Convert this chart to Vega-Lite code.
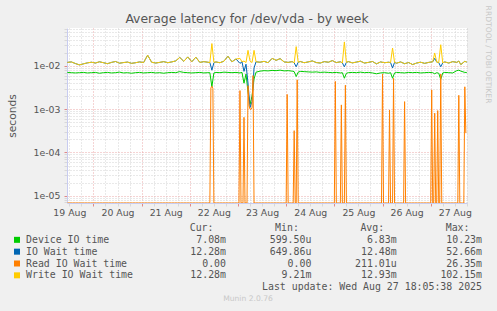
{
  "$schema": "https://vega.github.io/schema/vega-lite/v6.json",
  "width": 400,
  "height": 175,
  "autosize": {"type": "none"},
  "padding": {"left": 67, "top": 28, "right": 30, "bottom": 108},
  "background": "#f0f0f0",
  "title": {"text": "Average latency for /dev/vda - by week", "font": "DejaVu Sans", "fontSize": 12.4, "fontWeight": "normal", "color": "#555555", "offset": -20, "dx": -20},
  "config": {"view": {"fill": "#ffffff", "stroke": null}},
  "datasets": {
    "main": [
      {"t":"2025-08-19T11:00Z","dev":0.0071,"io":0.0121,"wr":0.0121},
      {"t":"2025-08-19T13:00Z","dev":0.0070,"io":0.0124,"wr":0.0124},
      {"t":"2025-08-19T15:00Z","dev":0.0069,"io":0.0114,"wr":0.0114},
      {"t":"2025-08-19T17:00Z","dev":0.0070,"io":0.0106,"wr":0.0106},
      {"t":"2025-08-19T19:00Z","dev":0.0071,"io":0.0112,"wr":0.0112},
      {"t":"2025-08-19T21:00Z","dev":0.0069,"io":0.0118,"wr":0.0118},
      {"t":"2025-08-19T23:00Z","dev":0.0070,"io":0.0122,"wr":0.0122},
      {"t":"2025-08-20T01:00Z","dev":0.0071,"io":0.0117,"wr":0.0117},
      {"t":"2025-08-20T03:00Z","dev":0.0068,"io":0.0125,"wr":0.0125},
      {"t":"2025-08-20T05:00Z","dev":0.0070,"io":0.0119,"wr":0.0119},
      {"t":"2025-08-20T07:00Z","dev":0.0071,"io":0.0113,"wr":0.0113},
      {"t":"2025-08-20T09:00Z","dev":0.0069,"io":0.0121,"wr":0.0121},
      {"t":"2025-08-20T11:00Z","dev":0.0070,"io":0.0127,"wr":0.0127},
      {"t":"2025-08-20T13:00Z","dev":0.0072,"io":0.0116,"wr":0.0116},
      {"t":"2025-08-20T15:00Z","dev":0.0069,"io":0.0120,"wr":0.0120},
      {"t":"2025-08-20T17:00Z","dev":0.0070,"io":0.0123,"wr":0.0123},
      {"t":"2025-08-20T19:00Z","dev":0.0068,"io":0.0115,"wr":0.0115},
      {"t":"2025-08-20T21:00Z","dev":0.0070,"io":0.0119,"wr":0.0119},
      {"t":"2025-08-20T23:00Z","dev":0.0071,"io":0.0124,"wr":0.0124},
      {"t":"2025-08-21T01:00Z","dev":0.0069,"io":0.0120,"wr":0.0120},
      {"t":"2025-08-21T03:00Z","dev":0.0070,"io":0.0178,"wr":0.0178},
      {"t":"2025-08-21T05:00Z","dev":0.0071,"io":0.0122,"wr":0.0122},
      {"t":"2025-08-21T07:00Z","dev":0.0069,"io":0.0117,"wr":0.0117},
      {"t":"2025-08-21T09:00Z","dev":0.0070,"io":0.0121,"wr":0.0121},
      {"t":"2025-08-21T11:00Z","dev":0.0068,"io":0.0126,"wr":0.0126},
      {"t":"2025-08-21T13:00Z","dev":0.0070,"io":0.0119,"wr":0.0119},
      {"t":"2025-08-21T15:00Z","dev":0.0071,"io":0.0124,"wr":0.0124},
      {"t":"2025-08-21T17:00Z","dev":0.0070,"io":0.0131,"wr":0.0131},
      {"t":"2025-08-21T19:00Z","dev":0.0074,"io":0.0158,"wr":0.0158},
      {"t":"2025-08-21T21:00Z","dev":0.0071,"io":0.0128,"wr":0.0128},
      {"t":"2025-08-21T23:00Z","dev":0.0070,"io":0.0162,"wr":0.0162},
      {"t":"2025-08-22T01:00Z","dev":0.0069,"io":0.0125,"wr":0.0125},
      {"t":"2025-08-22T03:00Z","dev":0.0070,"io":0.0160,"wr":0.0160},
      {"t":"2025-08-22T05:00Z","dev":0.0071,"io":0.0121,"wr":0.0121},
      {"t":"2025-08-22T07:00Z","dev":0.0069,"io":0.0126,"wr":0.0126},
      {"t":"2025-08-22T09:00Z","dev":0.0070,"io":0.0122,"wr":0.0122},
      {"t":"2025-08-22T10:00Z","dev":0.0070,"io":0.0120,"wr":0.0120},
      {"t":"2025-08-22T11:00Z","dev":0.0033,"io":0.0080,"wr":0.0330},
      {"t":"2025-08-22T12:00Z","dev":0.0069,"io":0.0118,"wr":0.0122},
      {"t":"2025-08-22T13:00Z","dev":0.0071,"io":0.0124,"wr":0.0124},
      {"t":"2025-08-22T15:00Z","dev":0.0070,"io":0.0119,"wr":0.0119},
      {"t":"2025-08-22T17:00Z","dev":0.0072,"io":0.0129,"wr":0.0129},
      {"t":"2025-08-22T19:00Z","dev":0.0071,"io":0.0168,"wr":0.0168},
      {"t":"2025-08-22T21:00Z","dev":0.0070,"io":0.0125,"wr":0.0125},
      {"t":"2025-08-22T23:00Z","dev":0.0071,"io":0.0145,"wr":0.0145},
      {"t":"2025-08-23T01:00Z","dev":0.0069,"io":0.0115,"wr":0.0150},
      {"t":"2025-08-23T02:00Z","dev":0.0071,"io":0.0125,"wr":0.0125},
      {"t":"2025-08-23T03:00Z","dev":0.0040,"io":0.0075,"wr":0.0130},
      {"t":"2025-08-23T04:00Z","dev":0.0065,"io":0.0110,"wr":0.0120},
      {"t":"2025-08-23T05:00Z","dev":0.0025,"io":0.0040,"wr":0.0230},
      {"t":"2025-08-23T06:00Z","dev":0.0013,"io":0.0011,"wr":0.0130},
      {"t":"2025-08-23T07:00Z","dev":0.0020,"io":0.0015,"wr":0.0120},
      {"t":"2025-08-23T08:00Z","dev":0.0050,"io":0.0090,"wr":0.0230},
      {"t":"2025-08-23T09:00Z","dev":0.0072,"io":0.0125,"wr":0.0125},
      {"t":"2025-08-23T11:00Z","dev":0.0076,"io":0.0122,"wr":0.0122},
      {"t":"2025-08-23T13:00Z","dev":0.0078,"io":0.0128,"wr":0.0128},
      {"t":"2025-08-23T15:00Z","dev":0.0077,"io":0.0119,"wr":0.0119},
      {"t":"2025-08-23T17:00Z","dev":0.0079,"io":0.0150,"wr":0.0150},
      {"t":"2025-08-23T19:00Z","dev":0.0078,"io":0.0135,"wr":0.0135},
      {"t":"2025-08-23T21:00Z","dev":0.0080,"io":0.0148,"wr":0.0148},
      {"t":"2025-08-23T23:00Z","dev":0.0077,"io":0.0124,"wr":0.0124},
      {"t":"2025-08-24T01:00Z","dev":0.0078,"io":0.0121,"wr":0.0121},
      {"t":"2025-08-24T03:00Z","dev":0.0076,"io":0.0126,"wr":0.0126},
      {"t":"2025-08-24T04:00Z","dev":0.0074,"io":0.0118,"wr":0.0118},
      {"t":"2025-08-24T05:00Z","dev":0.0057,"io":0.0096,"wr":0.0280},
      {"t":"2025-08-24T06:00Z","dev":0.0072,"io":0.0122,"wr":0.0122},
      {"t":"2025-08-24T07:00Z","dev":0.0075,"io":0.0127,"wr":0.0127},
      {"t":"2025-08-24T09:00Z","dev":0.0074,"io":0.0119,"wr":0.0119},
      {"t":"2025-08-24T11:00Z","dev":0.0073,"io":0.0124,"wr":0.0124},
      {"t":"2025-08-24T13:00Z","dev":0.0072,"io":0.0131,"wr":0.0131},
      {"t":"2025-08-24T15:00Z","dev":0.0073,"io":0.0120,"wr":0.0120},
      {"t":"2025-08-24T17:00Z","dev":0.0071,"io":0.0117,"wr":0.0117},
      {"t":"2025-08-24T19:00Z","dev":0.0072,"io":0.0126,"wr":0.0126},
      {"t":"2025-08-24T21:00Z","dev":0.0071,"io":0.0122,"wr":0.0122},
      {"t":"2025-08-24T23:00Z","dev":0.0070,"io":0.0133,"wr":0.0133},
      {"t":"2025-08-25T01:00Z","dev":0.0071,"io":0.0120,"wr":0.0120},
      {"t":"2025-08-25T03:00Z","dev":0.0069,"io":0.0125,"wr":0.0125},
      {"t":"2025-08-25T04:00Z","dev":0.0070,"io":0.0118,"wr":0.0118},
      {"t":"2025-08-25T05:00Z","dev":0.0052,"io":0.0096,"wr":0.0360},
      {"t":"2025-08-25T06:00Z","dev":0.0068,"io":0.0121,"wr":0.0121},
      {"t":"2025-08-25T07:00Z","dev":0.0070,"io":0.0126,"wr":0.0126},
      {"t":"2025-08-25T09:00Z","dev":0.0071,"io":0.0118,"wr":0.0118},
      {"t":"2025-08-25T11:00Z","dev":0.0070,"io":0.0123,"wr":0.0123},
      {"t":"2025-08-25T13:00Z","dev":0.0072,"io":0.0129,"wr":0.0129},
      {"t":"2025-08-25T15:00Z","dev":0.0070,"io":0.0117,"wr":0.0117},
      {"t":"2025-08-25T17:00Z","dev":0.0071,"io":0.0121,"wr":0.0121},
      {"t":"2025-08-25T19:00Z","dev":0.0069,"io":0.0127,"wr":0.0127},
      {"t":"2025-08-25T21:00Z","dev":0.0066,"io":0.0112,"wr":0.0112},
      {"t":"2025-08-25T23:00Z","dev":0.0069,"io":0.0124,"wr":0.0124},
      {"t":"2025-08-26T01:00Z","dev":0.0070,"io":0.0119,"wr":0.0119},
      {"t":"2025-08-26T03:00Z","dev":0.0068,"io":0.0122,"wr":0.0122},
      {"t":"2025-08-26T04:00Z","dev":0.0070,"io":0.0120,"wr":0.0120},
      {"t":"2025-08-26T05:00Z","dev":0.0052,"io":0.0090,"wr":0.0260},
      {"t":"2025-08-26T06:00Z","dev":0.0069,"io":0.0121,"wr":0.0121},
      {"t":"2025-08-26T07:00Z","dev":0.0071,"io":0.0116,"wr":0.0116},
      {"t":"2025-08-26T09:00Z","dev":0.0070,"io":0.0124,"wr":0.0124},
      {"t":"2025-08-26T11:00Z","dev":0.0069,"io":0.0113,"wr":0.0113},
      {"t":"2025-08-26T13:00Z","dev":0.0071,"io":0.0120,"wr":0.0120},
      {"t":"2025-08-26T15:00Z","dev":0.0070,"io":0.0108,"wr":0.0108},
      {"t":"2025-08-26T17:00Z","dev":0.0071,"io":0.0117,"wr":0.0117},
      {"t":"2025-08-26T19:00Z","dev":0.0069,"io":0.0122,"wr":0.0122},
      {"t":"2025-08-26T21:00Z","dev":0.0070,"io":0.0115,"wr":0.0115},
      {"t":"2025-08-26T23:00Z","dev":0.0071,"io":0.0121,"wr":0.0121},
      {"t":"2025-08-27T01:00Z","dev":0.0070,"io":0.0125,"wr":0.0125},
      {"t":"2025-08-27T02:00Z","dev":0.0066,"io":0.0150,"wr":0.0200},
      {"t":"2025-08-27T03:00Z","dev":0.0070,"io":0.0123,"wr":0.0123},
      {"t":"2025-08-27T04:00Z","dev":0.0068,"io":0.0120,"wr":0.0120},
      {"t":"2025-08-27T05:00Z","dev":0.0049,"io":0.0096,"wr":0.0310},
      {"t":"2025-08-27T06:00Z","dev":0.0069,"io":0.0118,"wr":0.0118},
      {"t":"2025-08-27T07:00Z","dev":0.0071,"io":0.0124,"wr":0.0124},
      {"t":"2025-08-27T09:00Z","dev":0.0070,"io":0.0117,"wr":0.0117},
      {"t":"2025-08-27T11:00Z","dev":0.0069,"io":0.0126,"wr":0.0126},
      {"t":"2025-08-27T13:00Z","dev":0.0078,"io":0.0121,"wr":0.0121},
      {"t":"2025-08-27T14:00Z","dev":0.0080,"io":0.0130,"wr":0.0130},
      {"t":"2025-08-27T15:00Z","dev":0.0076,"io":0.0108,"wr":0.0108},
      {"t":"2025-08-27T17:00Z","dev":0.0071,"io":0.0128,"wr":0.0128},
      {"t":"2025-08-27T18:00Z","dev":0.00708,"io":0.01228,"wr":0.01228}
    ],
    "read": [
      {"t":"2025-08-19T11:00Z","v":0},
      {"t":"2025-08-22T10:00Z","v":0},
      {"t":"2025-08-22T10:30Z","v":0.0031},
      {"t":"2025-08-22T11:00Z","v":0.0034},
      {"t":"2025-08-22T11:30Z","v":0.0030},
      {"t":"2025-08-22T12:00Z","v":0},
      {"t":"2025-08-23T00:30Z","v":0},
      {"t":"2025-08-23T01:00Z","v":0.0027},
      {"t":"2025-08-23T01:30Z","v":0},
      {"t":"2025-08-23T02:30Z","v":0},
      {"t":"2025-08-23T03:00Z","v":0.00065},
      {"t":"2025-08-23T03:30Z","v":0},
      {"t":"2025-08-23T04:30Z","v":0},
      {"t":"2025-08-23T05:00Z","v":0.0035},
      {"t":"2025-08-23T05:30Z","v":0.0012},
      {"t":"2025-08-23T06:00Z","v":0.0010},
      {"t":"2025-08-23T06:30Z","v":0.0010},
      {"t":"2025-08-23T07:00Z","v":0.0011},
      {"t":"2025-08-23T07:30Z","v":0.0060},
      {"t":"2025-08-23T08:00Z","v":0},
      {"t":"2025-08-24T00:00Z","v":0},
      {"t":"2025-08-24T00:30Z","v":0.0022},
      {"t":"2025-08-24T01:00Z","v":0},
      {"t":"2025-08-24T03:30Z","v":0},
      {"t":"2025-08-24T04:00Z","v":0.00032},
      {"t":"2025-08-24T04:30Z","v":0},
      {"t":"2025-08-24T05:00Z","v":0},
      {"t":"2025-08-24T05:30Z","v":0.0048},
      {"t":"2025-08-24T06:00Z","v":0},
      {"t":"2025-08-25T00:00Z","v":0},
      {"t":"2025-08-25T00:30Z","v":0.0044},
      {"t":"2025-08-25T01:00Z","v":0},
      {"t":"2025-08-25T03:00Z","v":0},
      {"t":"2025-08-25T03:30Z","v":0.00126},
      {"t":"2025-08-25T04:00Z","v":0},
      {"t":"2025-08-25T05:00Z","v":0},
      {"t":"2025-08-25T05:30Z","v":0.0036},
      {"t":"2025-08-25T06:00Z","v":0},
      {"t":"2025-08-25T23:30Z","v":0},
      {"t":"2025-08-26T00:00Z","v":0.0065},
      {"t":"2025-08-26T00:30Z","v":0},
      {"t":"2025-08-26T03:00Z","v":0},
      {"t":"2025-08-26T03:30Z","v":0.00096},
      {"t":"2025-08-26T04:00Z","v":0},
      {"t":"2025-08-26T05:00Z","v":0},
      {"t":"2025-08-26T05:30Z","v":0.0052},
      {"t":"2025-08-26T06:00Z","v":0},
      {"t":"2025-08-26T10:30Z","v":0},
      {"t":"2025-08-26T11:00Z","v":0.0015},
      {"t":"2025-08-26T11:30Z","v":0},
      {"t":"2025-08-27T00:00Z","v":0},
      {"t":"2025-08-27T00:30Z","v":0.0028},
      {"t":"2025-08-27T01:00Z","v":0},
      {"t":"2025-08-27T01:30Z","v":0},
      {"t":"2025-08-27T02:00Z","v":0.00081},
      {"t":"2025-08-27T02:30Z","v":0},
      {"t":"2025-08-27T03:00Z","v":0},
      {"t":"2025-08-27T03:30Z","v":0.00093},
      {"t":"2025-08-27T04:00Z","v":0},
      {"t":"2025-08-27T04:30Z","v":0},
      {"t":"2025-08-27T05:00Z","v":0.0065},
      {"t":"2025-08-27T05:30Z","v":0},
      {"t":"2025-08-27T13:30Z","v":0},
      {"t":"2025-08-27T14:00Z","v":0.0021},
      {"t":"2025-08-27T14:30Z","v":0},
      {"t":"2025-08-27T16:30Z","v":0},
      {"t":"2025-08-27T17:00Z","v":0.0033},
      {"t":"2025-08-27T17:30Z","v":0.00028}
    ],
    "stats": [
      {"series":"Device IO time","Cur":"7.08m","Min":"599.50u","Avg":"6.83m","Max":"10.23m"},
      {"series":"IO Wait time","Cur":"12.28m","Min":"649.86u","Avg":"12.48m","Max":"52.66m"},
      {"series":"Read IO Wait time","Cur":"0.00","Min":"0.00","Avg":"211.01u","Max":"26.35m"},
      {"series":"Write IO Wait time","Cur":"12.28m","Min":"9.21m","Avg":"12.93m","Max":"102.15m"}
    ],
    "hdr": [
      {"stat":"Cur","label":"Cur:"},
      {"stat":"Min","label":"Min:"},
      {"stat":"Avg","label":"Avg:"},
      {"stat":"Max","label":"Max:"}
    ]
  },
  "layer": [
    {
      "encoding": {
        "x": {"field": "t", "type": "temporal",
          "scale": {"type": "utc", "domain": [1755600600000, 1756317900000]},
          "axis": {"title": null, "format": "%d %b",
            "values": [1755604800000, 1755626400000, 1755648000000, 1755669600000, 1755691200000, 1755712800000, 1755734400000, 1755756000000, 1755777600000, 1755799200000, 1755820800000, 1755842400000, 1755864000000, 1755885600000, 1755907200000, 1755928800000, 1755950400000, 1755972000000, 1755993600000, 1756015200000, 1756036800000, 1756058400000, 1756080000000, 1756101600000, 1756123200000, 1756144800000, 1756166400000, 1756188000000, 1756209600000, 1756231200000, 1756252800000, 1756274400000, 1756296000000, 1756317600000],
            "labelOverlap": false, "labelFlush": false, "labelBound": false,
            "labelOpacity": {"condition": {"test": "datum.value % 86400000 == 43200000", "value": 1}, "value": 0},
            "labelFont": "DejaVu Sans", "labelFontSize": 9.33, "labelColor": "#555555", "labelPadding": 2,
            "tickSize": 3,
            "tickColor": {"condition": {"test": "datum.value % 86400000 == 0", "value": "#e08888"}, "value": "#d8d8d8"},
            "grid": true,
            "gridColor": {"condition": {"test": "datum.value % 86400000 == 0", "value": "#eaa8a8"}, "value": "#d2d2d2"},
            "gridDash": [1, 2], "domainColor": "#c8ccf0"}},
        "y": {"field": "v", "type": "quantitative",
          "scale": {"type": "log", "domain": [0.0000068, 0.0755], "clamp": true, "nice": false},
          "axis": {"title": "seconds",
            "values": [0.000007, 0.000008, 0.000009, 0.00001, 0.00002, 0.00003, 0.00004, 0.00005, 0.00006, 0.00007, 0.00008, 0.00009, 0.0001, 0.0002, 0.0003, 0.0004, 0.0005, 0.0006, 0.0007, 0.0008, 0.0009, 0.001, 0.002, 0.003, 0.004, 0.005, 0.006, 0.007, 0.008, 0.009, 0.01, 0.02, 0.03, 0.04, 0.05, 0.06, 0.07],
            "labelExpr": "datum.value == 0.01 ? '1e-02' : datum.value == 0.001 ? '1e-03' : datum.value == 0.0001 ? '1e-04' : datum.value == 0.00001 ? '1e-05' : ''",
            "labelOverlap": false, "labelBound": false, "labelFlush": false,
            "labelFont": "DejaVu Sans", "labelFontSize": 9.33, "labelColor": "#555555", "labelPadding": 4,
            "tickSize": 3,
            "tickColor": {"condition": {"test": "datum.value == 0.01 || datum.value == 0.001 || datum.value == 0.0001 || datum.value == 0.00001", "value": "#e08888"}, "value": "#d8d8d8"},
            "grid": true,
            "gridColor": {"condition": {"test": "datum.value == 0.01 || datum.value == 0.001 || datum.value == 0.0001 || datum.value == 0.00001", "value": "#eaa8a8"}, "value": "#d2d2d2"},
            "gridDash": [1, 2], "domainColor": "#c8ccf0",
            "titleFont": "DejaVu Sans", "titleFontSize": 10.67, "titleFontWeight": "normal", "titleColor": "#555555", "titlePadding": 16}}
      },
      "layer": [
        {"data": {"name": "main"},
         "transform": [{"fold": ["dev", "io", "wr"], "as": ["k", "v"]}, {"filter": "datum.k == 'dev'"}],
         "mark": {"type": "line", "strokeWidth": 1, "clip": true},
         "encoding": {"color": {"datum": "Device IO time", "type": "nominal",
           "scale": {"domain": ["Device IO time", "IO Wait time", "Read IO Wait time", "Write IO Wait time"], "range": ["#00cc00", "#0066b3", "#ff8000", "#ffcc00"]},
           "legend": null}}},
        {"data": {"name": "main"},
         "transform": [{"fold": ["dev", "io", "wr"], "as": ["k", "v"]}, {"filter": "datum.k == 'io'"}],
         "mark": {"type": "line", "strokeWidth": 1, "clip": true},
         "encoding": {"color": {"datum": "IO Wait time", "type": "nominal", "legend": null}}},
        {"data": {"name": "read"},
         "mark": {"type": "line", "strokeWidth": 1, "clip": true},
         "encoding": {"color": {"datum": "Read IO Wait time", "type": "nominal", "legend": null}}},
        {"data": {"name": "main"},
         "transform": [{"fold": ["dev", "io", "wr"], "as": ["k", "v"]}, {"filter": "datum.k == 'wr'"}],
         "mark": {"type": "line", "strokeWidth": 1, "clip": true},
         "encoding": {"color": {"datum": "Write IO Wait time", "type": "nominal", "legend": null}}}
      ]
    },
    {
      "layer": [
        {"data": {"name": "stats"},
         "transform": [{"fold": ["Cur", "Min", "Avg", "Max"], "as": ["stat", "val"]}],
         "mark": {"type": "text", "align": "right", "baseline": "middle", "font": "DejaVu Sans Mono", "fontSize": 9.9, "color": "#555555"},
         "encoding": {
           "x": {"field": "stat", "type": "nominal", "scale": {"type": "point", "domain": ["Cur", "Min", "Avg", "Max"], "range": [159, 415], "padding": 0}, "axis": null},
           "y": {"field": "series", "type": "nominal", "scale": {"type": "point", "domain": ["hdr", "Device IO time", "IO Wait time", "Read IO Wait time", "Write IO Wait time", "upd", "munin"], "range": [200, 271], "padding": 0},
             "axis": {"orient": "right", "domain": false, "ticks": false, "labels": false, "grid": false, "title": "RRDTOOL / TOBI OETIKER", "titleAngle": 90, "titleColor": "#c8c8c8", "titleFont": "DejaVu Sans", "titleFontSize": 7.6, "titleFontWeight": "normal", "titleX": 20, "titleY": 26, "titleAlign": "center", "titleBaseline": "middle"}},
           "text": {"field": "val"}}},
        {"data": {"name": "hdr"},
         "mark": {"type": "text", "align": "right", "baseline": "middle", "font": "DejaVu Sans Mono", "fontSize": 9.9, "color": "#555555", "dx": -12.5},
         "encoding": {
           "x": {"field": "stat", "type": "nominal"},
           "y": {"datum": "hdr", "type": "nominal"},
           "text": {"field": "label"}}},
        {"data": {"values": [{"label": "Last update: Wed Aug 27 18:05:38 2025"}]},
         "mark": {"type": "text", "align": "right", "baseline": "middle", "font": "DejaVu Sans Mono", "fontSize": 9.9, "color": "#555555"},
         "encoding": {
           "x": {"datum": "Max", "type": "nominal"},
           "y": {"datum": "upd", "type": "nominal"},
           "text": {"field": "label"}}},
        {"data": {"values": [{"label": "Munin 2.0.76"}]},
         "mark": {"type": "text", "align": "center", "baseline": "middle", "font": "DejaVu Sans", "fontSize": 7.6, "color": "#c8c8c8", "dx": 22},
         "encoding": {
           "x": {"datum": "Cur", "type": "nominal"},
           "y": {"datum": "munin", "type": "nominal"},
           "text": {"field": "label"}}}
      ]
    },
    {
      "data": {"name": "stats"},
      "encoding": {
        "y": {"field": "series", "type": "nominal", "scale": {"type": "point", "domain": ["hdr", "Device IO time", "IO Wait time", "Read IO Wait time", "Write IO Wait time", "upd", "munin"], "range": [200, 271], "padding": 0}, "axis": null}
      },
      "layer": [
        {"mark": {"type": "square", "size": 36, "opacity": 1},
         "encoding": {
           "x": {"datum": "sq", "type": "nominal", "scale": {"type": "point", "domain": ["sq", "nm"], "range": [-50, -41], "padding": 0}, "axis": null},
           "color": {"field": "series", "type": "nominal", "legend": null}}},
        {"mark": {"type": "text", "align": "left", "baseline": "middle", "font": "DejaVu Sans Mono", "fontSize": 9.9, "color": "#555555"},
         "encoding": {
           "x": {"datum": "nm", "type": "nominal"},
           "text": {"field": "series"}}}
      ]
    }
  ],
  "resolve": {"scale": {"x": "independent", "y": "independent"}}
}
